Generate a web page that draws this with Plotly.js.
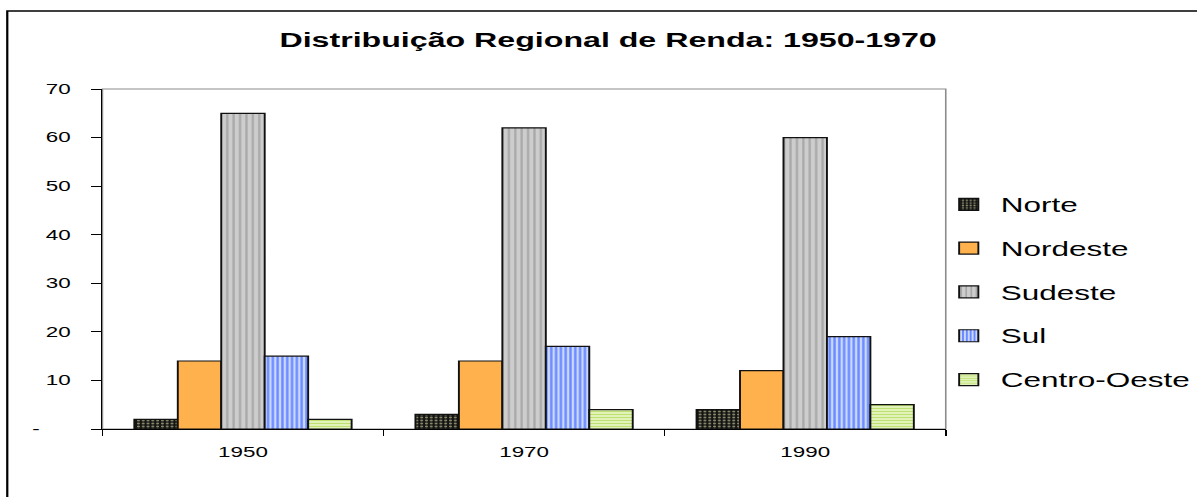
<!DOCTYPE html>
<html><head><meta charset="utf-8">
<script src="https://cdn.plot.ly/plotly-3.0.1.min.js"></script>
<style>
html,body{margin:0;padding:0;overflow:hidden;background:#fff}
#wrap{width:1197px;height:497px;overflow:hidden;position:relative}
#chart{width:748px;height:497px;transform-origin:0 0}
</style></head>
<body><div id="wrap"><div id="chart"></div></div>
<script>
// ---- data ----
const years = ['1950', '1970', '1990'];
const regions = ['Norte', 'Nordeste', 'Sudeste', 'Sul', 'Centro-Oeste'];
const norte = [2, 3, 4];
const nordeste = [14, 14, 12];
const sudeste = [65, 62, 60];
const sul = [15, 17, 19];
const centroOeste = [2, 4, 5];
const yTickVals = [0, 10, 20, 30, 40, 50, 60, 70];
const yTickText = ['-\u00a0\u00a0\u00a0\u00a0\u00a0', '10', '20', '30', '40', '50', '60', '70'];
const chartTitle = 'Distribuição Regional de Renda: 1950-1970';

// ---- layout geometry (the reference image is stretched horizontally) ----
const S = 1197 / 748;
document.getElementById('chart').style.transform = 'scaleX(' + S + ')';
const L = 103 / S, R = 748 - 945 / S, T = 89, B = 68;
const PW = 748 - L - R, PH = 497 - T - B;
const px = v => (v / S - L) / PW;   // scaled page x -> paper x
const py = v => (497 - B - v) / PH; // page y -> paper y

const FONT = 'Liberation Sans, Arial, sans-serif';
const seriesValues = [norte, nordeste, sudeste, sul, centroOeste];
const styles = [
  {color: '#141414', pattern: {shape: '.', bgcolor: '#141414', fgcolor: '#8a8a6a', size: 3, solidity: 0.3}},
  {color: '#ffb14e', pattern: {shape: '', bgcolor: '#ffb14e', fgcolor: '#ffa840'}},
  {color: '#c8c8c8', pattern: {shape: '|', bgcolor: '#cdcdcd', fgcolor: '#a8a8a8', size: 4, solidity: 0.35}},
  {color: '#a0b8ff', pattern: {shape: '|', bgcolor: '#cad8ff', fgcolor: '#6a8aff', size: 3, solidity: 0.5}},
  {color: '#d8f0a0', pattern: {shape: '-', bgcolor: '#f2fcdc', fgcolor: '#bde070', size: 3, solidity: 0.55}}
];

const traces = regions.map((name, i) => ({
  type: 'bar',
  name: name,
  x: years,
  y: seriesValues[i],
  legendgroup: name,
  marker: {
    color: styles[i].color,
    pattern: styles[i].pattern,
    line: {color: '#111', width: 1.2}
  },
  hoverinfo: 'skip'
}));

const layout = {
  width: 748, height: 497,
  margin: {l: L, r: R, t: T, b: B, pad: 0, autoexpand: false},
  paper_bgcolor: '#fff', plot_bgcolor: '#fff',
  font: {family: FONT, color: '#000', size: 14},
  title: {
    text: chartTitle,
    font: {family: FONT, size: 20.1, weight: 'bold', color: '#000'},
    xref: 'container', x: 380 / 748, xanchor: 'center',
    yref: 'container', y: 1 - 40 / 497, yanchor: 'middle'
  },
  barmode: 'group', bargap: 0.227, bargroupgap: 0,
  showlegend: true,
  legend: {
    x: px(936), xanchor: 'left', y: py(185), yanchor: 'top',
    font: {family: FONT, size: 19.7, color: '#000'},
    traceorder: 'grouped', tracegroupgap: 15.2,
    bgcolor: 'rgba(0,0,0,0)', borderwidth: 0
  },
  xaxis: {
    type: 'category', showline: true, linecolor: '#000', linewidth: 1,
    ticks: 'outside', tickson: 'boundaries', ticklen: 6, tickcolor: '#000', tickwidth: 1,
    tickfont: {family: FONT, size: 14, color: '#000'}, ticklabelstandoff: 10,
    showgrid: false, zeroline: false, fixedrange: true
  },
  yaxis: {
    range: [0, 70], showline: true, linecolor: '#000', linewidth: 1,
    tickmode: 'array', tickvals: yTickVals, ticktext: yTickText,
    ticks: 'outside', ticklen: 6, tickcolor: '#000', tickwidth: 1,
    tickfont: {family: FONT, size: 14, color: '#000'}, ticklabelstandoff: 10,
    showgrid: false, zeroline: false, fixedrange: true
  },
  shapes: [
    {type: 'rect', xref: 'paper', yref: 'paper', x0: 0, x1: 1, y0: 0, y1: 1,
     line: {color: '#8c8c8c', width: 1}, layer: 'below'},
    {type: 'rect', xref: 'paper', yref: 'paper', x0: px(8), x1: px(1260), y0: py(540), y1: py(11),
     line: {color: '#000', width: 1.4}, layer: 'above'}
  ]
};

Plotly.newPlot('chart', traces, layout, {displayModeBar: false, staticPlot: true});
</script>
</body></html>
